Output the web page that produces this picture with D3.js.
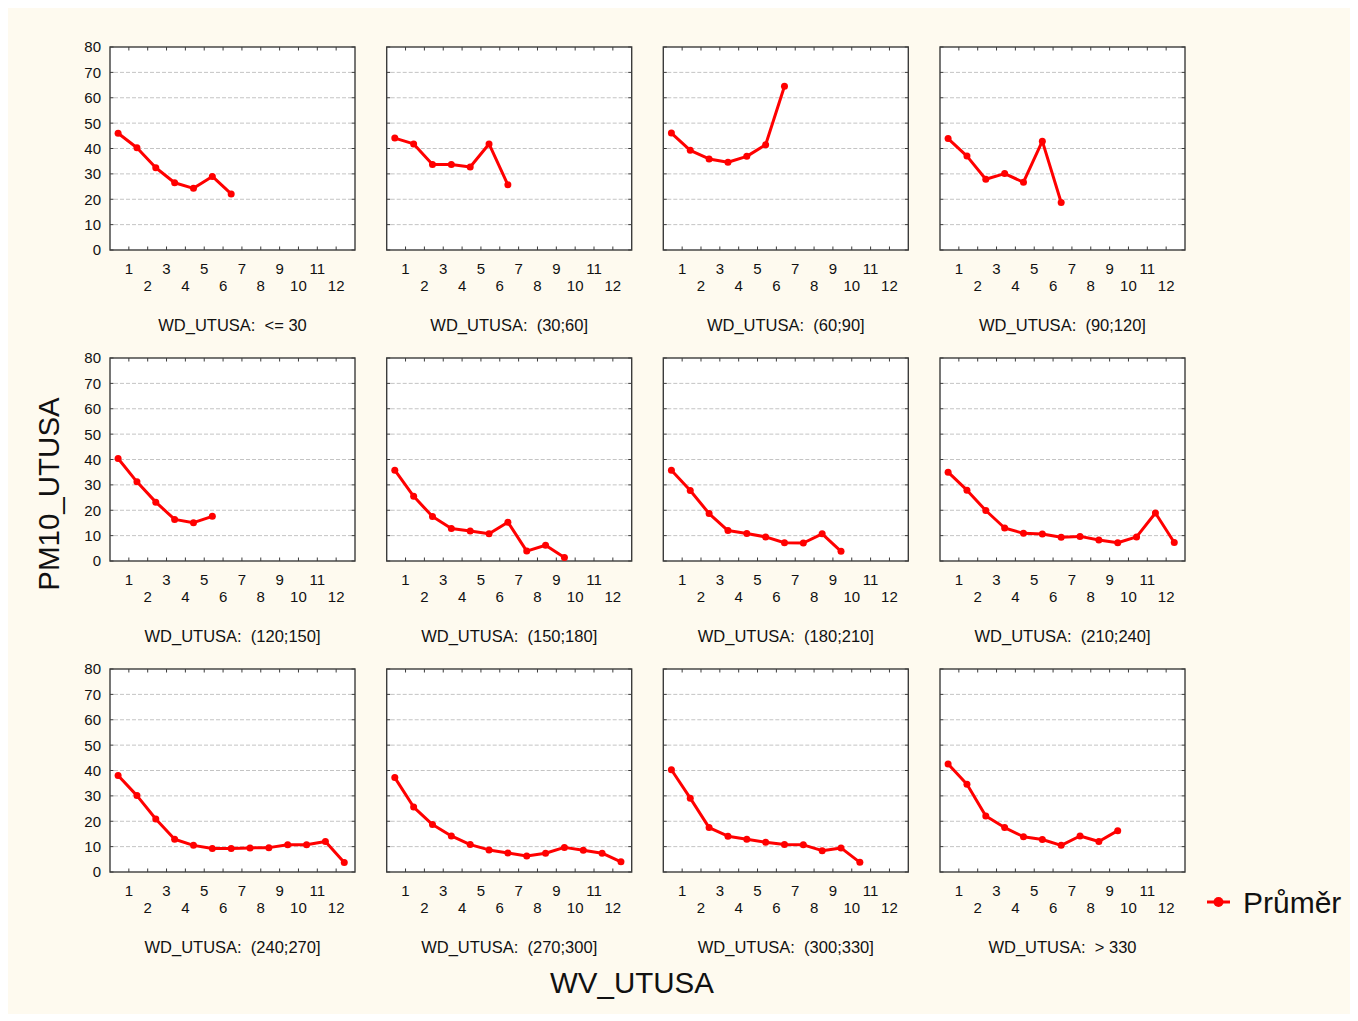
<!DOCTYPE html>
<html>
<head>
<meta charset="utf-8">
<script src="https://cdn.jsdelivr.net/npm/d3@7"></script>
<style>
  body { margin: 0; background: #ffffff; }
  svg { display: block; font-family: "Liberation Sans", Arial, sans-serif; }
</style>
</head>
<body>
<svg id="chart" width="1358" height="1021"></svg>
<script>
// Wind-speed classes on the x axis (labels sit on the class boundaries)
const wvTicks = [1, 2, 3, 4, 5, 6, 7, 8, 9, 10, 11, 12];
const yTicks = [0, 10, 20, 30, 40, 50, 60, 70, 80];
const gridValues = [10, 20, 30, 40, 50, 60, 70];

// Wind-direction sector titles, one per panel
const wdTitles = [
  "WD_UTUSA:  <= 30", "WD_UTUSA:  (30;60]", "WD_UTUSA:  (60;90]", "WD_UTUSA:  (90;120]",
  "WD_UTUSA:  (120;150]", "WD_UTUSA:  (150;180]", "WD_UTUSA:  (180;210]", "WD_UTUSA:  (210;240]",
  "WD_UTUSA:  (240;270]", "WD_UTUSA:  (270;300]", "WD_UTUSA:  (300;330]", "WD_UTUSA:  > 330"
];

// Mean PM10 per wind-speed class, one array per wind-direction sector
const wd000_030 = [46.0, 40.3, 32.4, 26.5, 24.3, 29.0, 22.1];
const wd030_060 = [44.1, 41.8, 33.7, 33.7, 32.7, 41.8, 25.7];
const wd060_090 = [46.1, 39.3, 35.9, 34.6, 36.9, 41.5, 64.5];
const wd090_120 = [43.9, 37.0, 27.9, 30.1, 26.7, 42.9, 18.7];
const wd120_150 = [40.4, 31.2, 23.2, 16.4, 15.1, 17.6];
const wd150_180 = [35.8, 25.5, 17.5, 12.8, 11.8, 10.7, 15.3, 3.9, 6.2, 1.4];
const wd180_210 = [35.8, 27.8, 18.7, 12.0, 10.8, 9.5, 7.2, 7.1, 10.7, 3.8];
const wd210_240 = [35.0, 27.9, 19.9, 13.0, 10.9, 10.6, 9.4, 9.7, 8.3, 7.2, 9.5, 18.9, 7.3];
const wd240_270 = [38.0, 30.1, 20.9, 12.9, 10.5, 9.3, 9.3, 9.5, 9.6, 10.7, 10.7, 12.0, 3.7];
const wd270_300 = [37.2, 25.6, 18.7, 14.2, 10.8, 8.7, 7.5, 6.3, 7.4, 9.7, 8.6, 7.4, 4.0];
const wd300_330 = [40.3, 29.1, 17.5, 14.1, 12.9, 11.7, 10.8, 10.7, 8.4, 9.5, 3.8];
const wd330_360 = [42.6, 34.6, 22.1, 17.5, 13.9, 12.8, 10.5, 14.2, 12.0, 16.3];

const panelSeries = [
  wd000_030, wd030_060, wd060_090, wd090_120,
  wd120_150, wd150_180, wd180_210, wd210_240,
  wd240_270, wd270_300, wd300_330, wd330_360
];

const svg = d3.select("#chart");

// page background
svg.append("rect").attr("x", 0).attr("y", 0).attr("width", 1358).attr("height", 1021).attr("fill", "#ffffff");
svg.append("rect").attr("x", 8).attr("y", 8).attr("width", 1342).attr("height", 1006).attr("fill", "#fefaef");

// panel grid geometry
const panelW = 245, panelH = 203;
const colLeft = [110, 386.7, 663.3, 940];
const rowTop = [47, 358, 669];
const red = "#ff0000";
const frameColor = "#3c3c3c";

const x = d3.scaleLinear().domain([0, 13]).range([0, panelW]);
const y = d3.scaleLinear().domain([0, 80]).range([panelH, 0]);
const pointOffset = 0.43;

panelSeries.forEach((series, idx) => {
  const col = idx % 4, row = Math.floor(idx / 4);
  const g = svg.append("g").attr("transform", `translate(${colLeft[col]},${rowTop[row]})`);

  g.append("rect").attr("width", panelW).attr("height", panelH).attr("fill", "#ffffff");

  // dashed horizontal gridlines
  g.selectAll("line.grid").data(gridValues).enter().append("line")
    .attr("class", "grid")
    .attr("x1", 4).attr("x2", panelW - 4)
    .attr("y1", d => y(d)).attr("y2", d => y(d))
    .attr("stroke", "#c4c4c4").attr("stroke-width", 1)
    .attr("stroke-dasharray", "4,2");

  // inward tick marks on all four sides
  const tickLen = 3.5;
  wvTicks.forEach(t => {
    g.append("line").attr("x1", x(t)).attr("x2", x(t)).attr("y1", 0).attr("y2", tickLen)
      .attr("stroke", frameColor).attr("stroke-width", 1);
    g.append("line").attr("x1", x(t)).attr("x2", x(t)).attr("y1", panelH).attr("y2", panelH - tickLen)
      .attr("stroke", frameColor).attr("stroke-width", 1);
  });
  yTicks.forEach(t => {
    g.append("line").attr("x1", 0).attr("x2", tickLen).attr("y1", y(t)).attr("y2", y(t))
      .attr("stroke", frameColor).attr("stroke-width", 1);
    g.append("line").attr("x1", panelW).attr("x2", panelW - tickLen).attr("y1", y(t)).attr("y2", y(t))
      .attr("stroke", frameColor).attr("stroke-width", 1);
  });

  // frame
  g.append("rect").attr("width", panelW).attr("height", panelH)
    .attr("fill", "none").attr("stroke", frameColor).attr("stroke-width", 1.4);

  // staggered x tick labels
  g.selectAll("text.xt").data(wvTicks).enter().append("text")
    .attr("class", "xt")
    .attr("x", d => x(d))
    .attr("y", d => d % 2 === 1 ? panelH + 24 : panelH + 41)
    .attr("text-anchor", "middle")
    .attr("font-size", 15)
    .attr("fill", "#111")
    .text(d => d);

  // y tick labels on the first column only
  if (col === 0) {
    g.selectAll("text.yt").data(yTicks).enter().append("text")
      .attr("class", "yt")
      .attr("x", -9)
      .attr("y", d => y(d))
      .attr("dy", "0.36em")
      .attr("text-anchor", "end")
      .attr("font-size", 15)
      .attr("fill", "#111")
      .text(d => d);
  }

  // panel title
  g.append("text")
    .attr("x", panelW / 2).attr("y", panelH + 81)
    .attr("text-anchor", "middle")
    .attr("font-size", 16.5)
    .attr("fill", "#111")
    .style("white-space", "pre")
    .text(wdTitles[idx]);

  // mean line with markers
  const line = d3.line()
    .x((d, i) => x(i + pointOffset))
    .y(d => y(d));
  g.append("path").datum(series)
    .attr("d", line)
    .attr("fill", "none").attr("stroke", red)
    .attr("stroke-width", 3).attr("stroke-linejoin", "round");
  g.selectAll("circle").data(series).enter().append("circle")
    .attr("cx", (d, i) => x(i + pointOffset))
    .attr("cy", d => y(d))
    .attr("r", 3.5)
    .attr("fill", red);
});

// axis titles
svg.append("text")
  .attr("transform", "translate(59,494) rotate(-90)")
  .attr("text-anchor", "middle")
  .attr("font-size", 29.5)
  .attr("fill", "#111")
  .text("PM10_UTUSA");

svg.append("text")
  .attr("x", 632).attr("y", 993)
  .attr("text-anchor", "middle")
  .attr("font-size", 29.5)
  .attr("fill", "#111")
  .text("WV_UTUSA");

// legend
const legend = svg.append("g").attr("transform", "translate(1207,902)");
legend.append("line").attr("x1", 0).attr("x2", 23).attr("y1", 0).attr("y2", 0)
  .attr("stroke", red).attr("stroke-width", 3);
legend.append("circle").attr("cx", 11.5).attr("cy", 0).attr("r", 5).attr("fill", red);
legend.append("text").attr("x", 36).attr("y", 10.5)
  .attr("font-size", 30)
  .attr("fill", "#111")
  .text("Průměr");
</script>
</body>
</html>
